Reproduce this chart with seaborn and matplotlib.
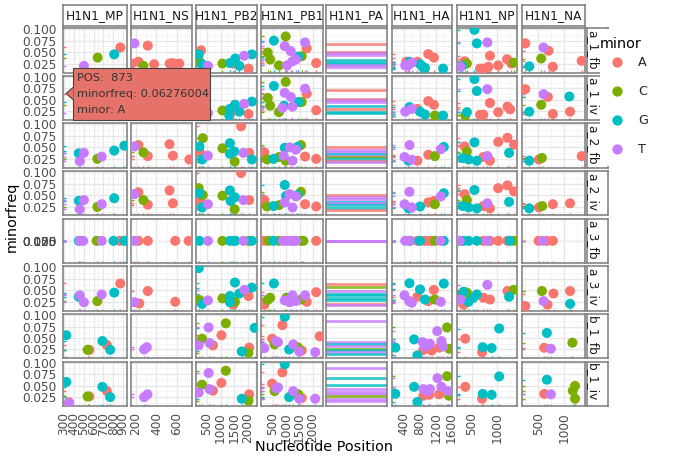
import numpy as np
import pandas as pd
import matplotlib
matplotlib.use("Agg")
import matplotlib.pyplot as plt
import seaborn as sns
from matplotlib.patches import Rectangle, Polygon
from matplotlib.lines import Line2D
from matplotlib.ticker import FixedLocator

# ---------------- data ----------------
segments = ["MP", "NS", "PB2", "PB1", "PA", "HA", "NP", "NA"]
segment_labels = ["H1N1_MP", "H1N1_NS", "H1N1_PB2", "H1N1_PB1", "H1N1_PA", "H1N1_HA", "H1N1_NP", "H1N1_NA"]
samples = ["a_1_fb", "a_1_iv", "a_2_fb", "a_2_iv", "a_3_fb", "a_3_iv", "b_1_fb", "b_1_iv"]
minor_levels = ["A", "C", "G", "T"]
minor_colors = ["#F8766D", "#7CAE00", "#00BFC4", "#C77CFF"]

y_ticks = [0.025, 0.050, 0.075, 0.100]
y_tick_labels = ["0.025", "0.050", "0.075", "0.100"]

x_ticks_MP = [300, 400, 500, 600, 700, 800, 900]
x_ticks_NS = [200, 400, 600]
x_ticks_PB2 = [500, 1000, 1500, 2000]
x_ticks_PB1 = [500, 1000, 1500, 2000]
x_ticks_HA = [400, 800, 1200, 1600]
x_ticks_NP = [500, 1000]
x_ticks_NA = [500, 1000]

# (segment, POS, minorfreq, minor)
a_1_fb = [
    ("MP", 872, .060, "A"), ("MP", 810, .045, "G"), ("MP", 642, .038, "C"), ("MP", 502, .020, "T"),
    ("NS", 183, .069, "T"), ("NS", 315, .064, "A"), ("NS", 223, .029, "A"), ("NS", 377, .0235, "A"),
    ("NS", 157, .025, "A"), ("NS", 272, .020, "C"), ("NS", 530, .025, "A"), ("NS", 560, .026, "A"),
    ("NS", 590, .024, "A"), ("NS", 625, .025, "A"),
    ("PB2", 286, .054, "A"), ("PB2", 200, .045, "G"), ("PB2", 224, .029, "C"), ("PB2", 323, .0235, "G"),
    ("PB2", 534, .020, "T"), ("PB2", 1066, .025, "C"), ("PB2", 1339, .026, "G"), ("PB2", 1537, .036, "G"),
    ("PB2", 1463, .025, "A"), ("PB2", 1859, .042, "T"), ("PB2", 2144, .045, "G"), ("PB2", 1686, .020, "G"),
    ("PB2", 2020, .014, "A"),
    ("PB1", 533, .075, "G"), ("PB1", 977, .084, "C"), ("PB1", 940, .063, "T"), ("PB1", 304, .049, "C"),
    ("PB1", 1168, .052, "T"), ("PB1", 1702, .071, "T"), ("PB1", 1765, .058, "A"), ("PB1", 393, .034, "C"),
    ("PB1", 723, .021, "C"), ("PB1", 1028, .021, "T"), ("PB1", 1231, .030, "T"), ("PB1", 1359, .034, "T"),
    ("PB1", 1448, .040, "G"), ("PB1", 1575, .041, "C"), ("PB1", 2120, .026, "A"),
    ("HA", 1013, .0456, "A"), ("HA", 1154, .038, "A"), ("HA", 739, .029, "A"), ("HA", 540, .029, "G"),
    ("HA", 598, .0265, "T"), ("HA", 432, .021, "T"), ("HA", 457, .029, "A"), ("HA", 805, .0235, "G"),
    ("HA", 930, .0155, "G"), ("HA", 1386, .014, "G"), ("HA", 872, .018, "G"), ("HA", 500, .021, "T"),
    ("NP", 549, .0985, "G"), ("NP", 596, .069, "G"), ("NP", 807, .071, "T"), ("NP", 859, .042, "A"),
    ("NP", 1202, .0345, "A"), ("NP", 1288, .025, "A"), ("NP", 1334, .027, "C"), ("NP", 1024, .021, "A"),
    ("NP", 827, .018, "A"), ("NP", 661, .014, "A"), ("NP", 727, .014, "A"), ("NP", 352, .030, "A"),
    ("NP", 398, .025, "C"), ("NP", 299, .020, "G"), ("NP", 266, .018, "T"),
    ("NA", 254, .069, "A"), ("NA", 604, .060, "T"), ("NA", 699, .053, "A"), ("NA", 559, .036, "C"),
    ("NA", 330, .019, "G"), ("NA", 782, .018, "A"), ("NA", 1336, .031, "A"),
]
a_1_iv = [
    ("MP", 873, .06276004, "A"), ("MP", 810, .045, "G"), ("MP", 642, .038, "C"), ("MP", 502, .020, "T"),
    ("NS", 183, .069, "T"), ("NS", 315, .064, "A"), ("NS", 223, .029, "A"), ("NS", 377, .0235, "A"),
    ("NS", 272, .020, "C"), ("NS", 560, .026, "A"), ("NS", 625, .025, "A"),
    ("PB2", 286, .055, "A"), ("PB2", 200, .045, "G"), ("PB2", 224, .030, "C"), ("PB2", 323, .024, "G"),
    ("PB2", 534, .021, "T"), ("PB2", 1066, .0265, "C"), ("PB2", 1339, .030, "G"), ("PB2", 1524, .039, "G"),
    ("PB2", 1463, .0257, "A"), ("PB2", 1859, .041, "T"), ("PB2", 2144, .046, "G"), ("PB2", 1686, .024, "G"),
    ("PB2", 2020, .019, "A"), ("PB2", 1315, .0155, "G"),
    ("PB1", 533, .080, "G"), ("PB1", 977, .089, "C"), ("PB1", 940, .065, "T"), ("PB1", 304, .054, "C"),
    ("PB1", 1168, .056, "T"), ("PB1", 1702, .074, "T"), ("PB1", 1765, .063, "A"), ("PB1", 723, .023, "C"),
    ("PB1", 1231, .035, "T"), ("PB1", 1448, .045, "G"), ("PB1", 1575, .045, "C"), ("PB1", 851, .032, "T"),
    ("PB1", 2120, .027, "A"), ("PB1", 915, .037, "G"), ("PB1", 393, .037, "C"),
    ("HA", 1013, .047, "A"), ("HA", 1154, .039, "A"), ("HA", 739, .030, "A"), ("HA", 540, .034, "G"),
    ("HA", 598, .030, "T"), ("HA", 432, .024, "T"), ("HA", 805, .024, "G"), ("HA", 930, .018, "G"),
    ("HA", 1179, .0155, "C"), ("HA", 1386, .0155, "G"),
    ("NP", 549, .095, "G"), ("NP", 596, .069, "G"), ("NP", 807, .073, "T"), ("NP", 859, .043, "A"),
    ("NP", 1209, .035, "A"), ("NP", 1262, .029, "A"), ("NP", 1024, .023, "A"), ("NP", 661, .017, "A"),
    ("NP", 727, .0175, "A"), ("NP", 398, .023, "G"), ("NP", 365, .016, "C"),
    ("NA", 254, .073, "A"), ("NA", 604, .062, "T"), ("NA", 686, .056, "A"), ("NA", 559, .039, "C"),
    ("NA", 330, .024, "G"), ("NA", 782, .019, "A"), ("NA", 1113, .024, "A"), ("NA", 1100, .057, "G"),
]
a_2_fb = [
    ("MP", 451, .037, "G"), ("MP", 502, .038, "T"), ("MP", 461, .020, "T"), ("MP", 639, .025, "C"),
    ("MP", 683, .030, "T"), ("MP", 810, .043, "G"), ("MP", 913, .0536, "G"),
    ("NS", 223, .055, "A"), ("NS", 183, .052, "T"), ("NS", 272, .039, "C"), ("NS", 315, .031, "A"),
    ("NS", 529, .057, "A"), ("NS", 562, .032, "A"), ("NS", 724, .0236, "A"),
    ("PB2", 1748, .096, "A"), ("PB2", 348, .070, "C"), ("PB2", 224, .052, "G"), ("PB2", 249, .039, "A"),
    ("PB2", 534, .032, "T"), ("PB2", 323, .0236, "G"), ("PB2", 1066, .048, "C"), ("PB2", 1339, .059, "G"),
    ("PB2", 1339, .036, "G"), ("PB2", 1500, .041, "G"), ("PB2", 1512, .019, "C"), ("PB2", 1835, .038, "T"),
    ("PB2", 2045, .038, "A"), ("PB2", 2144, .0236, "G"),
    ("PB1", 177, .039, "A"), ("PB1", 279, .0236, "C"), ("PB1", 520, .025, "G"), ("PB1", 723, .029, "C"),
    ("PB1", 901, .032, "T"), ("PB1", 977, .021, "C"), ("PB1", 940, .049, "G"), ("PB1", 1130, .050, "T"),
    ("PB1", 1359, .045, "T"), ("PB1", 1422, .051, "G"), ("PB1", 1549, .055, "C"), ("PB1", 1231, .021, "T"),
    ("PB1", 1702, .030, "A"), ("PB1", 2120, .025, "A"),
    ("HA", 540, .055, "T"), ("HA", 415, .029, "T"), ("HA", 515, .021, "G"), ("HA", 598, .023, "T"),
    ("HA", 739, .021, "A"), ("HA", 1013, .034, "A"), ("HA", 1179, .031, "C"), ("HA", 1328, .046, "T"),
    ("HA", 1403, .051, "G"),
    ("NP", 352, .052, "A"), ("NP", 398, .041, "C"), ("NP", 549, .061, "G"), ("NP", 319, .0265, "G"),
    ("NP", 431, .0236, "G"), ("NP", 596, .021, "G"), ("NP", 727, .029, "A"), ("NP", 793, .030, "A"),
    ("NP", 859, .021, "A"), ("NP", 807, .031, "T"), ("NP", 1024, .062, "A"), ("NP", 1209, .071, "A"),
    ("NP", 1341, .056, "A"), ("NP", 1242, .038, "G"),
    ("NA", 330, .021, "G"), ("NA", 515, .0236, "A"), ("NA", 572, .027, "C"), ("NA", 1336, .031, "A"),
]
a_2_iv = [
    ("MP", 451, .0375, "G"), ("MP", 502, .039, "T"), ("MP", 461, .019, "T"), ("MP", 639, .024, "C"),
    ("MP", 683, .030, "T"), ("MP", 810, .043, "G"),
    ("NS", 223, .056, "A"), ("NS", 183, .052, "T"), ("NS", 272, .039, "C"), ("NS", 315, .029, "A"),
    ("NS", 529, .060, "A"), ("NS", 562, .032, "A"),
    ("PB2", 1748, .098, "A"), ("PB2", 200, .065, "C"), ("PB2", 224, .054, "G"), ("PB2", 348, .050, "C"),
    ("PB2", 249, .037, "A"), ("PB2", 534, .030, "T"), ("PB2", 323, .023, "G"), ("PB2", 1066, .0485, "C"),
    ("PB2", 1339, .060, "G"), ("PB2", 1524, .045, "G"), ("PB2", 1364, .037, "G"), ("PB2", 1512, .019, "C"),
    ("PB2", 1835, .039, "T"), ("PB2", 2045, .039, "A"),
    ("PB1", 940, .072, "G"), ("PB1", 177, .039, "A"), ("PB1", 279, .025, "C"), ("PB1", 520, .026, "G"),
    ("PB1", 723, .028, "C"), ("PB1", 940, .034, "T"), ("PB1", 1118, .052, "T"), ("PB1", 1359, .047, "T"),
    ("PB1", 1549, .057, "C"), ("PB1", 1422, .050, "G"), ("PB1", 1231, .023, "T"), ("PB1", 1702, .030, "A"),
    ("PB1", 2120, .025, "A"), ("PB1", 990, .048, "G"),
    ("HA", 540, .057, "T"), ("HA", 415, .030, "T"), ("HA", 515, .021, "G"), ("HA", 598, .023, "T"),
    ("HA", 805, .025, "G"), ("HA", 1013, .034, "A"), ("HA", 1154, .037, "A"), ("HA", 1179, .030, "C"),
    ("HA", 1328, .047, "T"), ("HA", 1403, .054, "G"),
    ("NP", 352, .052, "A"), ("NP", 398, .039, "C"), ("NP", 549, .061, "G"), ("NP", 319, .026, "G"),
    ("NP", 431, .023, "G"), ("NP", 596, .021, "G"), ("NP", 727, .026, "A"), ("NP", 807, .032, "T"),
    ("NP", 1024, .065, "A"), ("NP", 1209, .071, "A"), ("NP", 1341, .058, "A"), ("NP", 1242, .035, "G"),
    ("NP", 859, .021, "A"),
    ("NA", 330, .021, "G"), ("NA", 515, .023, "A"), ("NA", 578, .026, "C"), ("NA", 782, .030, "A"),
    ("NA", 1113, .032, "A"),
]
a_3_fb = [
    ("MP", 461, .040, "T"), ("MP", 451, .036, "G"), ("MP", 495, .030, "T"), ("MP", 632, .025, "C"),
    ("MP", 683, .030, "T"), ("MP", 803, .043, "G"), ("MP", 865, .060, "A"), ("MP", 913, .050, "G"),
    ("NS", 183, .050, "T"), ("NS", 223, .055, "A"), ("NS", 315, .030, "A"), ("NS", 585, .025, "A"),
    ("NS", 717, .024, "A"),
    ("PB2", 224, .050, "G"), ("PB2", 534, .030, "T"), ("PB2", 1066, .048, "C"), ("PB2", 1339, .058, "G"),
    ("PB2", 1463, .036, "G"), ("PB2", 1549, .041, "G"), ("PB2", 1835, .038, "T"), ("PB2", 2020, .020, "C"),
    ("PB2", 2144, .024, "G"),
    ("PB1", 177, .039, "A"), ("PB1", 342, .024, "C"), ("PB1", 520, .025, "G"), ("PB1", 723, .029, "C"),
    ("PB1", 876, .032, "T"), ("PB1", 1003, .050, "T"), ("PB1", 1155, .045, "T"), ("PB1", 1257, .021, "T"),
    ("PB1", 1359, .045, "T"), ("PB1", 1549, .055, "C"), ("PB1", 1638, .030, "C"), ("PB1", 2120, .025, "A"),
    ("HA", 432, .029, "T"), ("HA", 540, .055, "T"), ("HA", 556, .021, "G"), ("HA", 739, .021, "A"),
    ("HA", 805, .025, "G"), ("HA", 930, .030, "A"), ("HA", 1038, .034, "A"), ("HA", 1096, .037, "A"),
    ("HA", 1179, .031, "C"), ("HA", 1320, .046, "T"), ("HA", 1403, .051, "G"),
    ("NP", 253, .030, "T"), ("NP", 266, .026, "G"), ("NP", 332, .041, "G"), ("NP", 431, .024, "G"),
    ("NP", 596, .021, "G"), ("NP", 727, .029, "A"), ("NP", 807, .031, "T"), ("NP", 859, .021, "A"),
    ("NP", 1024, .062, "A"), ("NP", 1209, .071, "A"), ("NP", 1255, .038, "G"), ("NP", 1341, .056, "C"),
    ("NA", 508, .024, "A"), ("NA", 591, .027, "T"), ("NA", 668, .030, "A"), ("NA", 782, .031, "A"),
]
a_3_iv = [
    ("MP", 872, .065, "A"), ("MP", 810, .045, "G"), ("MP", 451, .036, "G"), ("MP", 461, .039, "T"),
    ("MP", 502, .024, "T"), ("MP", 639, .0265, "C"), ("MP", 683, .041, "T"),
    ("NS", 315, .0485, "A"), ("NS", 183, .024, "T"), ("NS", 232, .0214, "A"), ("NS", 585, .025, "A"),
    ("PB2", 200, .0985, "G"), ("PB2", 1524, .067, "G"), ("PB2", 1339, .0375, "G"), ("PB2", 1686, .043, "G"),
    ("PB2", 1871, .051, "T"), ("PB2", 2144, .056, "G"), ("PB2", 2020, .0375, "A"), ("PB2", 1066, .0325, "C"),
    ("PB2", 1524, .025, "C"), ("PB2", 1339, .024, "G"), ("PB2", 534, .028, "T"), ("PB2", 323, .0206, "G"),
    ("PB2", 224, .029, "C"), ("PB2", 1463, .019, "A"),
    ("PB1", 533, .065, "G"), ("PB1", 2120, .046, "A"), ("PB1", 1702, .039, "T"), ("PB1", 1231, .039, "T"),
    ("PB1", 1003, .034, "C"), ("PB1", 304, .029, "C"), ("PB1", 940, .028, "T"), ("PB1", 1130, .024, "T"),
    ("PB1", 1359, .0265, "T"), ("PB1", 1549, .030, "C"), ("PB1", 1765, .025, "A"), ("PB1", 393, .034, "C"),
    ("PB1", 177, .019, "A"),
    ("HA", 540, .0655, "G"), ("HA", 805, .052, "G"), ("HA", 1154, .051, "A"), ("HA", 415, .039, "T"),
    ("HA", 739, .036, "A"), ("HA", 930, .030, "G"), ("HA", 1179, .030, "C"), ("HA", 532, .0265, "T"),
    ("HA", 598, .023, "T"), ("HA", 1013, .0265, "A"), ("HA", 1328, .025, "T"), ("HA", 1403, .0647, "G"),
    ("NP", 807, .062, "T"), ("NP", 332, .047, "G"), ("NP", 398, .045, "C"), ("NP", 596, .041, "G"),
    ("NP", 530, .034, "G"), ("NP", 727, .034, "A"), ("NP", 859, .030, "A"), ("NP", 431, .025, "G"),
    ("NP", 332, .019, "A"), ("NP", 1209, .0485, "A"), ("NP", 1334, .051, "C"), ("NP", 1242, .036, "G"),
    ("NP", 266, .030, "T"),
    ("NA", 572, .0485, "C"), ("NA", 795, .043, "A"), ("NA", 1113, .0485, "A"), ("NA", 604, .0265, "T"),
    ("NA", 680, .019, "A"), ("NA", 1113, .0206, "G"), ("NA", 254, .0155, "A"),
]
b_1_fb = [
    ("MP", 324, .056, "G"), ("MP", 557, .024, "A"), ("MP", 540, .0243, "C"), ("MP", 690, .0434, "G"),
    ("MP", 735, .035, "A"), ("MP", 769, .0243, "G"),
    ("NS", 279, .025, "T"), ("NS", 305, .030, "T"),
    ("PB2", 561, .073, "T"), ("PB2", 1190, .082, "C"), ("PB2", 1029, .056, "A"), ("PB2", 323, .0485, "C"),
    ("PB2", 596, .039, "T"), ("PB2", 720, .034, "A"), ("PB2", 200, .034, "T"), ("PB2", 1773, .0206, "G"),
    ("PB2", 2045, .029, "A"), ("PB2", 2020, .0176, "C"), ("PB2", 2243, .072, "G"),
    ("PB1", 940, .096, "G"), ("PB1", 851, .078, "A"), ("PB1", 469, .0485, "A"), ("PB1", 621, .043, "T"),
    ("PB1", 685, .041, "T"), ("PB1", 558, .036, "C"), ("PB1", 1105, .025, "G"), ("PB1", 1257, .036, "T"),
    ("PB1", 1422, .030, "C"), ("PB1", 1486, .024, "C"), ("PB1", 1486, .0206, "T"), ("PB1", 1575, .0228, "A"),
    ("PB1", 2083, .019, "T"), ("PB1", 2248, .0537, "A"), ("PB1", 177, .028, "T"),
    ("HA", 1486, .073, "C"), ("HA", 1237, .065, "T"), ("HA", 656, .047, "G"), ("HA", 872, .041, "T"),
    ("HA", 988, .034, "T"), ("HA", 1054, .0375, "T"), ("HA", 930, .0316, "T"), ("HA", 1345, .0434, "T"),
    ("HA", 1386, .0316, "T"), ("HA", 889, .024, "A"), ("HA", 1287, .029, "A"), ("HA", 1536, .0265, "C"),
    ("HA", 183, .029, "G"), ("HA", 739, .012, "G"), ("HA", 1096, .0228, "A"),
    ("NP", 1044, .0706, "G"), ("NP", 365, .0485, "A"), ("NP", 714, .030, "G"), ("NP", 892, .028, "G"),
    ("NP", 701, .019, "A"),
    ("NA", 668, .061, "G"), ("NA", 617, .0287, "A"), ("NA", 745, .0265, "T"), ("NA", 1158, .0397, "C"),
]
b_1_iv = [
    ("MP", 324, .058, "G"), ("MP", 352, .0138, "A"), ("MP", 352, .012, "T"), ("MP", 557, .0264, "A"),
    ("MP", 540, .0264, "C"), ("MP", 690, .0474, "G"), ("MP", 735, .0383, "A"), ("MP", 769, .025, "G"),
    ("NS", 279, .025, "T"), ("NS", 312, .031, "T"),
    ("PB2", 561, .0776, "T"), ("PB2", 1190, .0825, "C"), ("PB2", 1029, .056, "A"), ("PB2", 323, .052, "C"),
    ("PB2", 596, .0425, "T"), ("PB2", 720, .039, "A"), ("PB2", 200, .035, "T"), ("PB2", 1773, .0215, "G"),
    ("PB2", 2020, .017, "C"), ("PB2", 2045, .031, "A"),
    ("PB1", 940, .0965, "G"), ("PB1", 851, .079, "A"), ("PB1", 469, .0544, "A"), ("PB1", 621, .044, "T"),
    ("PB1", 685, .046, "T"), ("PB1", 558, .038, "C"), ("PB1", 1105, .025, "G"), ("PB1", 1257, .038, "T"),
    ("PB1", 1448, .031, "C"), ("PB1", 1486, .024, "C"), ("PB1", 1486, .0215, "T"), ("PB1", 1575, .023, "A"),
    ("PB1", 2083, .0215, "T"),
    ("HA", 1486, .0706, "C"), ("HA", 1245, .0664, "T"), ("HA", 656, .0474, "G"), ("HA", 889, .0425, "T"),
    ("HA", 997, .038, "T"), ("HA", 1054, .0425, "T"), ("HA", 1345, .0474, "T"), ("HA", 1511, .038, "T"),
    ("HA", 889, .028, "A"), ("HA", 1287, .031, "A"), ("HA", 1038, .030, "A"), ("HA", 1536, .028, "C"),
    ("HA", 183, .032, "G"), ("HA", 739, .0145, "G"),
    ("NP", 1044, .070, "G"), ("NP", 365, .0474, "A"), ("NP", 714, .032, "G"), ("NP", 892, .030, "G"),
    ("NP", 701, .0215, "A"),
    ("NA", 668, .063, "G"), ("NA", 617, .032, "A"), ("NA", 745, .031, "T"), ("NA", 1209, .0495, "C"),
    ("NA", 1165, .039, "C"), ("NA", 1209, .0215, "C"),
]

# PA segment: horizontal traces (minorfreq, minor)
pa_a_1_fb = [(.067, "A"), (.0506, "A"), (.047, "T"), (.0433, "T"), (.032, "G"), (.0285, "G"), (.025, "G"), (.0213, "T"), (.0175, "T")]
pa_a_1_iv = [(.072, "A"), (.052, "A"), (.0484, "T"), (.0448, "T"), (.036, "G"), (.030, "A"), (.024, "G"), (.0206, "G")]
pa_a_2_fb = [(.050, "A"), (.045, "T"), (.0406, "T"), (.0357, "G"), (.032, "T"), (.0286, "C"), (.025, "G"), (.0214, "A"), (.018, "T")]
pa_a_2_iv = [(.050, "A"), (.045, "T"), (.041, "T"), (.035, "G"), (.0316, "T"), (.028, "G"), (.0228, "G"), (.0175, "A")]
pa_a_3_fb = [(.050, "A"), (.040, "T"), (.030, "T")]
pa_a_3_iv = [(.0647, "A"), (.0573, "C"), (.0485, "T"), (.0426, "G"), (.039, "G"), (.0338, "G"), (.028, "G"), (.0213, "A"), (.017, "T")]
pa_b_1_fb = [(.0868, "T"), (.041, "T"), (.036, "G"), (.0316, "T"), (.0265, "C"), (.0228, "G"), (.019, "T"), (.0155, "G")]
pa_b_1_iv = [(.088, "T"), (.067, "G"), (.051, "G"), (.0425, "T"), (.037, "T"), (.0313, "T"), (.0265, "C"), (.0215, "T"), (.016, "T")]

tooltip_lines = ["POS:  873", "minorfreq: 0.06276004", "minor: A"]

# ---------------- build table ----------------
rows = []
for name, lst in zip(samples, [a_1_fb, a_1_iv, a_2_fb, a_2_iv, a_3_fb, a_3_iv, b_1_fb, b_1_iv]):
    for seg, pos, fr, mn in lst:
        rows.append(dict(sample=name, segment=seg, POS=pos, minorfreq=fr, minor=mn))
df = pd.DataFrame(rows)
df["minor"] = pd.Categorical(df["minor"], categories=minor_levels, ordered=True)
pa_rows = []
for name, lst in zip(samples, [pa_a_1_fb, pa_a_1_iv, pa_a_2_fb, pa_a_2_iv, pa_a_3_fb, pa_a_3_iv, pa_b_1_fb, pa_b_1_iv]):
    for fr, mn in lst:
        pa_rows.append(dict(sample=name, minorfreq=fr, minor=mn))
pa_df = pd.DataFrame(pa_rows)
pal = dict(zip(minor_levels, minor_colors))

# ---------------- layout ----------------
sns.set_style("white")
plt.rcParams["font.family"] = ["DejaVu Sans"]
W, H = 675, 468
fig = plt.figure(figsize=(W / 100, H / 100), dpi=100)
fig.patch.set_facecolor("white")

def fax(l, t, w, h, **kw):
    return fig.add_axes([l / W, 1 - (t + h) / H, w / W, h / H], **kw)

lefts = [63, 131, 196, 261, 326, 392, 457, 522]
rights = [127, 192, 257, 323, 387, 452, 517, 585]
PH = 44.5
tops = [28 + 47.65 * r for r in range(8)]

xlims = {"MP": (290, 940), "NS": (150, 750), "PB2": (100, 2330), "PB1": (50, 2375),
         "PA": (0, 1), "HA": (100, 1610), "NP": (200, 1400), "NA": (190, 1400)}
xticks = {"MP": x_ticks_MP, "NS": x_ticks_NS, "PB2": x_ticks_PB2, "PB1": x_ticks_PB1,
          "PA": [], "HA": x_ticks_HA, "NP": x_ticks_NP, "NA": x_ticks_NA}

BORDER = "#7a7a7a"
TICKC = "#4d4d4d"
FS = 8.7

for r, samp in enumerate(samples):
    for c, seg in enumerate(segments):
        ax = fax(lefts[c], tops[r], rights[c] - lefts[c], PH)
        ax.set_facecolor("white")
        sub = df[(df["sample"] == samp) & (df["segment"] == seg)].sort_values("minor")
        if seg == "PA":
            psub = pa_df[pa_df["sample"] == samp]
            for fr, mn in zip(psub["minorfreq"], psub["minor"]):
                ax.axhline(fr, color=pal[mn], lw=2.0, alpha=0.8, zorder=2)
        else:
            sns.rugplot(data=sub, x="POS", y="minorfreq", hue="minor", hue_order=minor_levels,
                        palette=pal, height=0.05, lw=1.6, legend=False, ax=ax, zorder=2)
            sns.scatterplot(data=sub, x="POS", y="minorfreq", hue="minor", hue_order=minor_levels,
                            palette=pal, s=52, linewidth=0, alpha=1, legend=False, ax=ax, zorder=3)
        ax.set_xlim(*xlims[seg])
        if samp == "a_3_fb":
            ax.set_ylim(-60, 60)
        else:
            ax.set_ylim(0.0055, 0.1025)
        tk = xticks[seg]
        if tk:
            step = tk[1] - tk[0]
            minors = [t + step / 2 for t in ([tk[0] - step] + tk)]
            ax.xaxis.set_major_locator(FixedLocator(tk))
            ax.xaxis.set_minor_locator(FixedLocator(minors))
        else:
            ax.set_xticks([])
        ax.yaxis.set_major_locator(FixedLocator(y_ticks))
        ax.yaxis.set_minor_locator(FixedLocator([0.0125, 0.0375, 0.0625, 0.0875]))
        ax.set_axisbelow(True)
        ax.grid(which="major", color="#e6e6e6", lw=0.9)
        ax.grid(which="minor", color="#f2f2f2", lw=0.5)
        ax.tick_params(which="minor", length=0)
        if c == 0:
            ax.set_yticklabels(y_tick_labels)
            ax.tick_params(axis="y", which="major", length=3, width=0.8, color="#333333",
                           labelsize=FS, labelcolor=TICKC, pad=1.5)
        else:
            ax.set_yticklabels([])
            ax.tick_params(axis="y", which="major", length=0)
        if r == 7 and tk:
            ax.set_xticklabels([str(t) for t in tk], rotation=90)
            ax.tick_params(axis="x", which="major", length=3, width=0.8, color="#333333",
                           labelsize=FS, labelcolor=TICKC, pad=1.5)
        else:
            ax.set_xticklabels([])
            ax.tick_params(axis="x", which="major", length=0)
        ax.set_xlabel("")
        ax.set_ylabel("")
        for sp in ax.spines.values():
            sp.set_color(BORDER)
            sp.set_linewidth(1.1)

# top strips
for c, lab in enumerate(segment_labels):
    sax = fax(lefts[c], 4.5, rights[c] - lefts[c], 21.5)
    sax.set_xticks([]); sax.set_yticks([])
    sax.set_facecolor("white")
    for sp in sax.spines.values():
        sp.set_color(BORDER); sp.set_linewidth(1.1)
    sax.text(0.5, 0.47, lab, ha="center", va="center", fontsize=FS, color="#1a1a1a",
             transform=sax.transAxes)

# right strips
for r, lab in enumerate(samples):
    sax = fax(587, tops[r], 21, PH)
    sax.set_xticks([]); sax.set_yticks([])
    sax.set_facecolor("white")
    for sp in sax.spines.values():
        sp.set_color(BORDER); sp.set_linewidth(1.1)
    sax.text(0.26, 0.96, lab, ha="center", va="top", rotation=-90, fontsize=FS, color="#1a1a1a",
             transform=sax.transAxes)

# axis titles
fig.text(324 / W, 1 - 447 / H, "Nucleotide Position", ha="center", va="center", fontsize=10.4, color="black")
fig.text(12 / W, 1 - 217 / H, "minorfreq", ha="center", va="center", rotation=90, fontsize=10.4, color="black")

# legend (white background hides the right edge of the strips beneath it)
fig.patches.append(Rectangle((599.5 / W, 1 - 165.5 / H), 76 / W, 137 / H, transform=fig.transFigure,
                             fc="white", ec="none", zorder=4))
fig.text(600 / W, 1 - 44 / H, "minor", ha="left", va="center", fontsize=10.4, color="black", zorder=6)
handles = [Line2D([], [], marker="o", ls="", markersize=7.4, markerfacecolor=col, markeredgewidth=0)
           for col in minor_colors]
leg = fig.legend(handles, minor_levels, loc="upper left",
                 bbox_to_anchor=(600 / W, 1 - 56 / H), frameon=False, fontsize=9.2,
                 handlelength=2.6, handletextpad=0.4, labelspacing=1.26,
                 borderpad=0, borderaxespad=0)
leg.set_zorder(6)

# tooltip
tip_col = "#E5736A"
fig.patches.append(Rectangle((73 / W, 1 - 120 / H), 137 / W, 52 / H, transform=fig.transFigure,
                             fc=tip_col, ec="#444444", lw=0.8, zorder=7))
fig.patches.append(Polygon([(73.6 / W, 1 - 87 / H), (66 / W, 1 - 93.5 / H), (73.6 / W, 1 - 100 / H)],
                           closed=False, transform=fig.transFigure, fc=tip_col, ec="#444444",
                           lw=0.8, zorder=8))
for i, line in enumerate(tooltip_lines):
    fig.text(77 / W, 1 - (78 + 16 * i) / H, line, ha="left", va="center", fontsize=8.2,
             color="#333333", zorder=9)

fig.savefig("out.png", dpi=100, facecolor="white")
